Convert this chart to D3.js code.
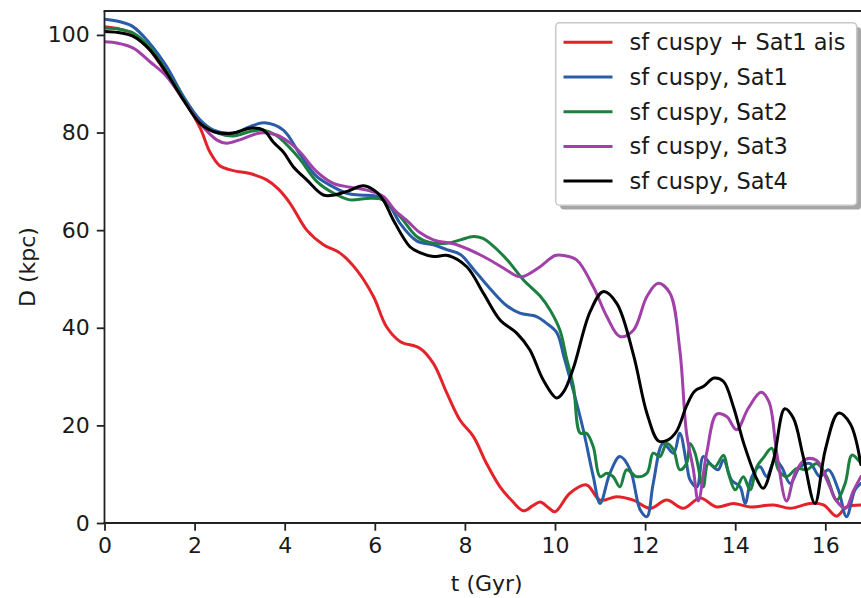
<!DOCTYPE html>
<html>
<head>
<meta charset="utf-8">
<script src="https://cdn.jsdelivr.net/npm/d3@7"></script>
<style>
  html, body { margin: 0; padding: 0; background: #fff; }
  svg text { font-family: "DejaVu Sans", sans-serif; fill: #1a1a1a; }
</style>
</head>
<body>
<svg id="chart" width="861" height="598"></svg>
<script>
// ---- data (t in Gyr, D in kpc) ----
const xTicks = [0, 2, 4, 6, 8, 10, 12, 14, 16];
const yTicks = [0, 20, 40, 60, 80, 100];
const seriesNames = ["sf cuspy + Sat1 ais", "sf cuspy, Sat1", "sf cuspy, Sat2", "sf cuspy, Sat3", "sf cuspy, Sat4"];
const seriesColors = ["#e4222a", "#2a5ca8", "#1b7f3f", "#a040a8", "#000000"];

const redAis = [[0,101.7],[0.3,101.3],[0.64,100.2],[1.0,97],[1.38,92],[1.75,87],[2.12,81],[2.34,76],[2.56,73.2],[2.86,72.2],[3.23,71.6],[3.6,70.3],[3.85,68.5],[4.12,65.5],[4.49,60],[4.86,57],[5.23,55.3],[5.6,51.8],[5.97,46.4],[6.26,40.2],[6.56,37.2],[7.0,35.8],[7.3,32.7],[7.6,26.6],[7.89,21.1],[8.19,17.7],[8.48,12.2],[8.78,7.4],[9.05,4.5],[9.3,2.5],[9.5,3.5],[9.67,4.3],[9.85,3.2],[10.0,2.3],[10.33,6.1],[10.7,7.8],[11.0,4.7],[11.37,5.4],[11.74,4.7],[12.11,3.0],[12.48,4.7],[12.85,3.0],[13.22,5.1],[13.59,3.3],[13.96,4.0],[14.33,3.3],[14.85,3.7],[15.22,3.0],[15.66,4.0],[15.96,3.7],[16.25,1.4],[16.47,3.3],[16.79,3.7]];

const sat1 = [[0,103.2],[0.3,102.8],[0.63,101.7],[1.0,98.3],[1.38,93.5],[1.75,87.4],[2.12,82.6],[2.42,80.5],[2.86,79.9],[3.23,81.2],[3.55,82],[3.97,80.5],[4.34,75.5],[4.71,71.0],[5.07,68.9],[5.4,67.5],[5.67,67.2],[6.04,66.9],[6.34,64.8],[6.56,61.4],[6.93,57.8],[7.3,57],[7.6,56],[7.9,55],[8.19,52],[8.56,48],[8.93,44.5],[9.22,43],[9.59,42.3],[9.8,41],[10.04,39],[10.2,34],[10.41,27],[10.63,19],[10.85,9.5],[11.0,4.0],[11.22,10.2],[11.44,13.6],[11.67,10.9],[11.89,2.7],[12.04,1.3],[12.18,8.1],[12.4,16.3],[12.63,14.3],[12.77,18.4],[12.92,12.2],[13.0,8.8],[13.15,7.4],[13.29,13.6],[13.44,12.2],[13.62,10.9],[13.74,12.9],[13.92,8.8],[14.11,7.4],[14.22,4.0],[14.37,9.5],[14.55,11.5],[14.7,9.5],[14.88,12.9],[15.03,11.5],[15.22,8.1],[15.44,11.5],[15.66,12.2],[15.88,9.5],[16.07,10.9],[16.29,6.8],[16.47,1.3],[16.66,6.8],[16.79,8.1]];

const sat2 = [[0,101.4],[0.3,101.2],[0.64,100.4],[1.0,97.5],[1.38,92.5],[1.75,87],[2.12,82],[2.49,80],[2.86,79.3],[3.23,80.2],[3.5,80.5],[3.8,79.5],[4.1,77],[4.34,74.5],[4.71,70],[5.08,67.6],[5.45,66.2],[5.82,66.5],[6.18,66.2],[6.56,62.8],[6.93,58.7],[7.22,57.5],[7.6,57.3],[7.9,58],[8.19,58.7],[8.4,58.3],[8.56,57.3],[8.93,54],[9.3,49.8],[9.67,46.5],[9.9,43.5],[10.11,39.5],[10.25,34],[10.41,27.9],[10.56,18.4],[10.70,18.4],[10.85,15.6],[11.0,9.5],[11.15,10.2],[11.29,9.5],[11.44,7.4],[11.59,10.9],[11.81,9.5],[12.04,10.2],[12.18,14.3],[12.33,13.6],[12.48,16.3],[12.63,15.0],[12.77,10.9],[12.92,12.2],[13.0,16.3],[13.11,14.3],[13.29,7.4],[13.4,12.2],[13.55,11.5],[13.74,13.9],[13.85,10.2],[14.0,6.8],[14.18,9.5],[14.33,6.8],[14.48,11.5],[14.62,13.3],[14.81,15.3],[14.96,10.9],[15.14,9.5],[15.37,11.2],[15.59,10.9],[15.81,12.2],[16.03,9.5],[16.25,4.7],[16.44,8.1],[16.59,13.9],[16.73,12.9],[16.79,12.2]];

const sat3 = [[0,98.6],[0.3,98.3],[0.64,97.3],[1.01,94.5],[1.38,91.5],[1.75,86.7],[2.12,81.9],[2.49,78.5],[2.71,77.8],[3.0,78.5],[3.45,79.9],[3.82,79.5],[4.1,78],[4.34,76],[4.71,72],[5.08,69.6],[5.45,68.8],[5.82,68.2],[6.19,66.9],[6.45,64],[6.71,62],[7.0,59.5],[7.3,58],[7.82,57],[8.41,54.6],[8.93,51.8],[9.15,50.6],[9.3,50.5],[9.67,52.5],[10.0,54.8],[10.2,54.8],[10.48,53.9],[10.85,48.4],[11.15,42.3],[11.44,38.2],[11.74,39.5],[12.04,46.4],[12.29,49.1],[12.55,47.1],[12.77,35.5],[12.92,18.4],[13.07,11],[13.18,4.5],[13.37,14.5],[13.59,22.3],[13.81,21.8],[14.03,19.1],[14.29,23.5],[14.57,26.8],[14.75,24.8],[14.92,14.5],[15.14,4.5],[15.33,10.2],[15.55,13],[15.81,12.8],[16.05,8.5],[16.25,4.5],[16.45,3],[16.62,6.5],[16.79,9.5]];

const sat4 = [[0,100.7],[0.3,100.5],[0.64,99.7],[1.01,96.9],[1.38,92.2],[1.75,86.7],[2.12,81.9],[2.49,80],[2.86,79.9],[3.23,80.9],[3.53,80.5],[3.75,78],[3.97,76],[4.19,73],[4.49,70.3],[4.86,67.2],[5.1,67.2],[5.4,68],[5.75,69.1],[6.04,67.8],[6.2,66],[6.41,62.1],[6.78,56.6],[7.0,55.4],[7.3,54.6],[7.62,54.8],[8.04,52.5],[8.41,47.1],[8.78,41.6],[9.15,38.9],[9.44,35.5],[9.74,29.3],[10.04,25.6],[10.2,27],[10.41,31.8],[10.78,43.3],[11.07,47.4],[11.37,45],[11.74,34.5],[12.04,22.5],[12.3,16.8],[12.5,17],[12.7,18.8],[12.92,24],[13.1,27],[13.3,28],[13.53,29.7],[13.74,29],[13.96,23.8],[14.2,16],[14.48,9],[14.62,7.1],[14.85,12.9],[15.1,23.4],[15.29,21.5],[15.51,13.6],[15.77,4.0],[16.0,15],[16.29,22.5],[16.55,20.4],[16.79,12]];

const allSeries = [redAis, sat1, sat2, sat3, sat4];

// ---- layout ----
const svg = d3.select("#chart");
const mLeft = 104.5, mTop = 11, mBottom = 523, mRight = 869;
const x = d3.scaleLinear().domain([0, 16.97]).range([mLeft, mRight]);
const y = d3.scaleLinear().domain([0, 104.9]).range([mBottom, mTop]);

svg.append("defs").append("clipPath").attr("id", "plotclip")
  .append("rect").attr("x", mLeft).attr("y", mTop).attr("width", mRight - mLeft).attr("height", mBottom - mTop);

const line = d3.line().x(d => x(d[0])).y(d => y(d[1])).curve(d3.curveCatmullRom.alpha(0.5));

const g = svg.append("g").attr("clip-path", "url(#plotclip)");
allSeries.forEach((s, i) => {
  g.append("path").datum(s).attr("d", line)
    .attr("fill", "none").attr("stroke", seriesColors[i])
    .attr("stroke-width", 3).attr("stroke-linejoin", "round").attr("stroke-linecap", "round");
});

// ---- axes ----
const spineColor = "#222";
const xAxis = d3.axisBottom(x).tickValues(xTicks).tickFormat(d3.format("d")).tickSize(7.7).tickPadding(7);
const yAxis = d3.axisLeft(y).tickValues(yTicks).tickFormat(d3.format("d")).tickSize(7.7).tickPadding(7);

const gx = svg.append("g").attr("transform", `translate(0,${mBottom})`).call(xAxis);
const gy = svg.append("g").attr("transform", `translate(${mLeft},0)`).call(yAxis);
[gx, gy].forEach(a => {
  a.select(".domain").remove();
  a.selectAll(".tick line").attr("stroke", spineColor).attr("stroke-width", 1.8);
  a.selectAll(".tick text").attr("font-size", 22).attr("fill", "#1a1a1a")
    .style("font-family", "'DejaVu Sans', sans-serif");
});

// spines
svg.append("line").attr("x1", mLeft).attr("x2", mLeft).attr("y1", mTop).attr("y2", mBottom)
  .attr("stroke", spineColor).attr("stroke-width", 1.8);
svg.append("line").attr("x1", mLeft - 0.9).attr("x2", mRight).attr("y1", mBottom).attr("y2", mBottom)
  .attr("stroke", spineColor).attr("stroke-width", 1.8);
svg.append("line").attr("x1", mLeft - 0.9).attr("x2", mRight).attr("y1", mTop).attr("y2", mTop)
  .attr("stroke", spineColor).attr("stroke-width", 1.8);

// axis labels
svg.append("text").attr("x", (mLeft + mRight) / 2).attr("y", 591)
  .attr("text-anchor", "middle").attr("font-size", 22).text("t (Gyr)");
svg.append("text").attr("transform", `translate(35,${(mTop + mBottom) / 2}) rotate(-90)`)
  .attr("text-anchor", "middle").attr("font-size", 22).text("D (kpc)");

// ---- legend ----
const lg = svg.append("g");
const lx = 555.7, ly = 22.7, lw = 301, lh = 182.5;
lg.append("rect").attr("x", lx + 4.4).attr("y", ly + 4.4).attr("width", lw).attr("height", lh)
  .attr("rx", 4).attr("fill", "#4d4d4d").attr("opacity", 0.5);
lg.append("rect").attr("x", lx).attr("y", ly).attr("width", lw).attr("height", lh)
  .attr("rx", 4).attr("fill", "#fff").attr("stroke", "#c8c8c8").attr("stroke-width", 1.5);
seriesNames.forEach((name, i) => {
  const yy = 42.3 + i * 34.7;
  lg.append("line").attr("x1", 563.5).attr("x2", 612.5).attr("y1", yy).attr("y2", yy)
    .attr("stroke", seriesColors[i]).attr("stroke-width", 3);
  lg.append("text").attr("x", 629.5).attr("y", yy + 8).attr("font-size", 22.5).text(name);
});
</script>
</body>
</html>
